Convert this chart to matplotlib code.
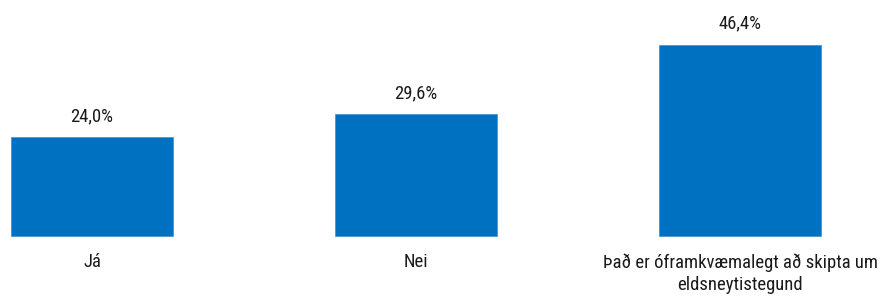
import matplotlib
matplotlib.use("Agg")
import matplotlib.pyplot as plt

categories = ["Já", "Nei", "Það er óframkvæmalegt að skipta um\neldsneytistegund"]
values = [24.0, 29.6, 46.4]
value_labels = ["24,0%", "29,6%", "46,4%"]

plt.rcParams['font.family'] = ['Roboto Condensed', 'Liberation Sans', 'DejaVu Sans']

W, H = 886, 296
fig = plt.figure(figsize=(W / 100, H / 100), dpi=100)
ax = fig.add_axes([0, 0, 1, 1])

# pixel mapping: center of bar i at 92 + 324*i; baseline at 236 px from top; 4.12 px per %
px_per_x = 324.0
cx0 = 92.0
ax.set_xlim(-cx0 / px_per_x, (W - cx0) / px_per_x)
py = 4.12
base = 236.0
ax.set_ylim(-(H - base) / py, base / py)

xs = list(range(len(categories)))
ax.bar(xs, values, width=0.5, color="#0070C0", edgecolor="#3d8fd0", linewidth=0.5)

for x, v, lab in zip(xs, values, value_labels):
    ax.annotate(lab, (x, v), xytext=(0, 16), textcoords="offset pixels",
                ha="center", va="baseline", fontsize=13.4, color="#1a1a1a")
for x, c in zip(xs, categories):
    ax.annotate(c, (x, 0), xytext=(0, -17), textcoords="offset pixels",
                ha="center", va="top", fontsize=13.4, color="#1a1a1a", linespacing=1.35)

ax.axis("off")
fig.savefig("out.png", dpi=100)
